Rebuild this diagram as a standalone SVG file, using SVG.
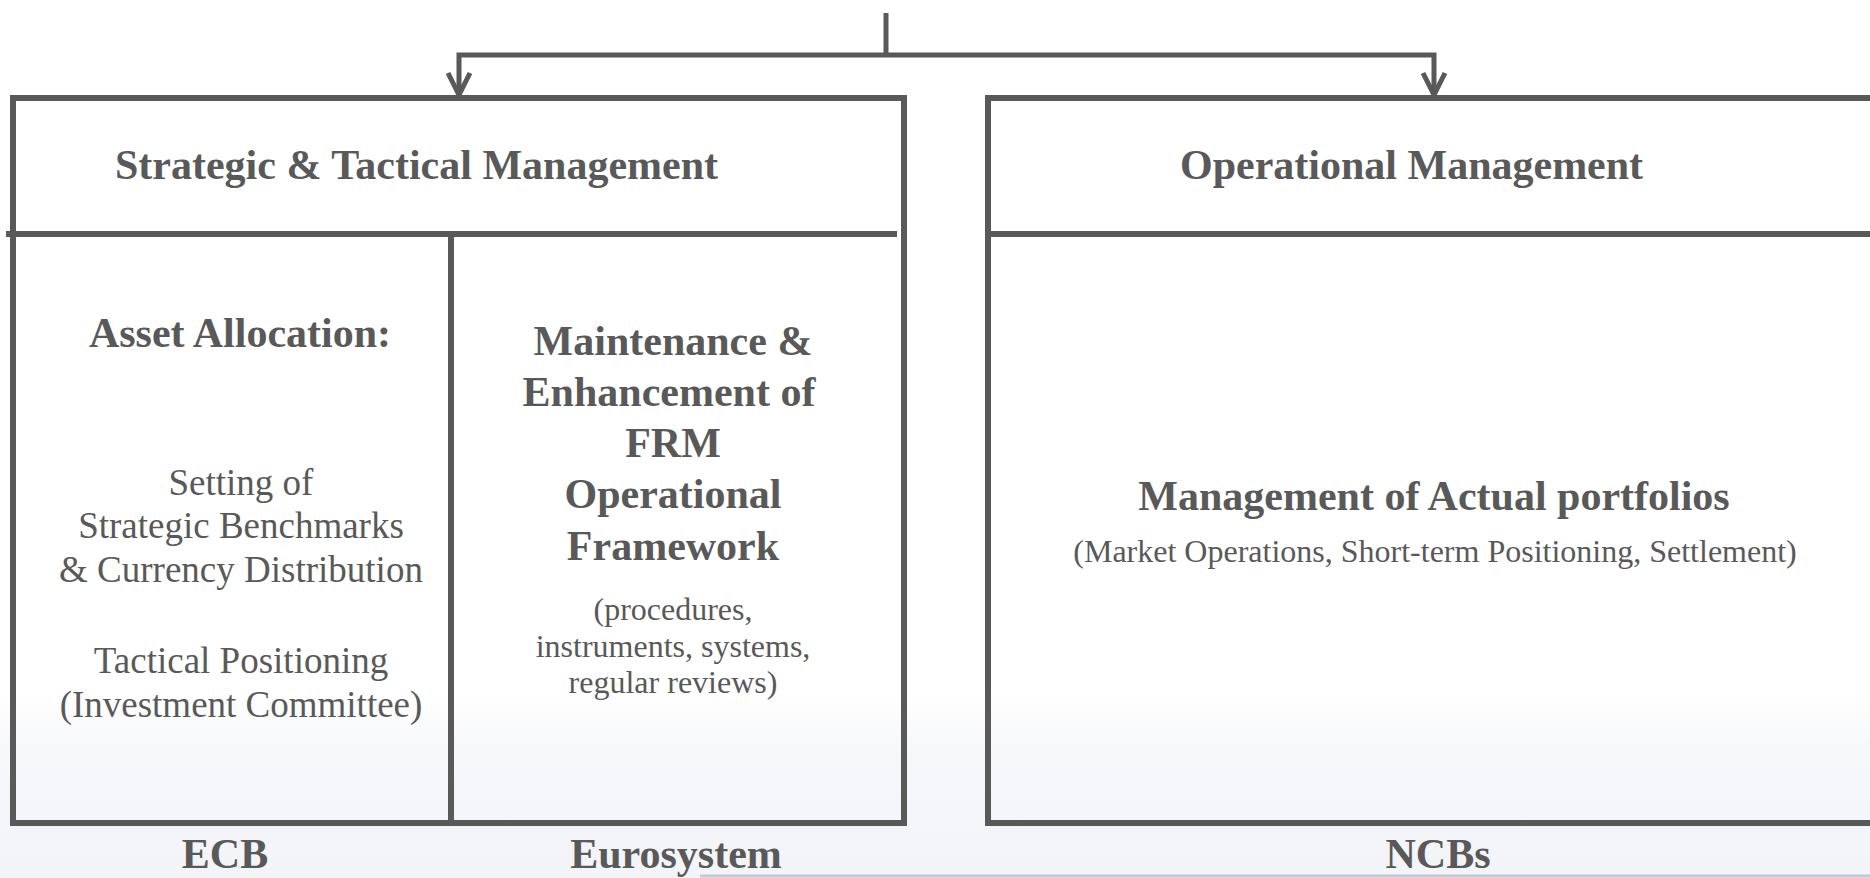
<svg xmlns="http://www.w3.org/2000/svg" width="1870" height="878" viewBox="0 0 1870 878">
<style>
.ln{stroke:#595959;stroke-width:6;fill:none}
.cn{stroke:#595959;stroke-width:5;fill:none}
.hb{font-family:"Liberation Serif","Times New Roman",serif;font-weight:bold;font-size:42px;fill:#595959}
.rg{font-family:"Liberation Serif","Times New Roman",serif;font-size:37px;fill:#595959;text-anchor:middle}
.sm{font-family:"Liberation Serif","Times New Roman",serif;font-size:32px;fill:#595959;text-anchor:middle}
.c{text-anchor:middle}
</style>
<defs>
<linearGradient id="bg" x1="0" y1="0" x2="0" y2="1">
<stop offset="0" stop-color="#eef0f5" stop-opacity="0"/>
<stop offset="0.3" stop-color="#eef0f5" stop-opacity="0.45"/>
<stop offset="1" stop-color="#eaecf3" stop-opacity="0.6"/>
</linearGradient>
</defs>
<rect width="1870" height="878" fill="#ffffff"/>
<rect x="0" y="690" width="1870" height="188" fill="url(#bg)"/>
<line x1="700" y1="876" x2="1870" y2="876" stroke="#c4c7d6" stroke-width="3"/>

<g id="connectors">
<line class="cn" x1="886" y1="13" x2="886" y2="55"/>
<polyline class="cn" points="459,94 459,55 1434,55 1434,94"/>
<path d="M448 73 L459 95 L470 73" class="cn"/>
<path d="M1423 73 L1434 95 L1445 73" class="cn"/>
</g>

<g id="strategic">
<rect class="ln" x="13" y="98" width="891" height="725"/>
<line class="ln" x1="6" y1="234" x2="897" y2="234"/>
<line class="ln" x1="451" y1="234" x2="451" y2="823"/>
<text class="hb" x="115" y="179">Strategic &amp; Tactical Management</text>
</g>

<g id="asset-allocation">
<text class="hb c" x="240" y="347">Asset Allocation:</text>
<text class="rg" x="241" y="495">Setting of</text>
<text class="rg" x="241" y="538">Strategic Benchmarks</text>
<text class="rg" x="241" y="582">&amp; Currency Distribution</text>
<text class="rg" x="241" y="673">Tactical Positioning</text>
<text class="rg" x="241" y="717">(Investment Committee)</text>
</g>

<g id="maintenance">
<text class="hb c" x="673" y="355">Maintenance &amp;</text>
<text class="hb c" x="669" y="406">Enhancement of</text>
<text class="hb c" x="673" y="457">FRM</text>
<text class="hb c" x="673" y="508">Operational</text>
<text class="hb c" x="673" y="560">Framework</text>
<text class="sm" x="673" y="620">(procedures,</text>
<text class="sm" x="673" y="657">instruments, systems,</text>
<text class="sm" x="673" y="693">regular reviews)</text>
</g>

<g id="operational">
<rect class="ln" x="988" y="98" width="900" height="725"/>
<line class="ln" x1="988" y1="234" x2="1870" y2="234"/>
<text class="hb" x="1180" y="179">Operational Management</text>
<text class="hb c" x="1434" y="510">Management of Actual portfolios</text>
<text class="sm" x="1435" y="562">(Market Operations, Short-term Positioning, Settlement)</text>
</g>

<g id="labels">
<text class="hb c" x="225" y="868">ECB</text>
<text class="hb c" x="676" y="868">Eurosystem</text>
<text class="hb c" x="1438" y="868">NCBs</text>
</g>
</svg>
